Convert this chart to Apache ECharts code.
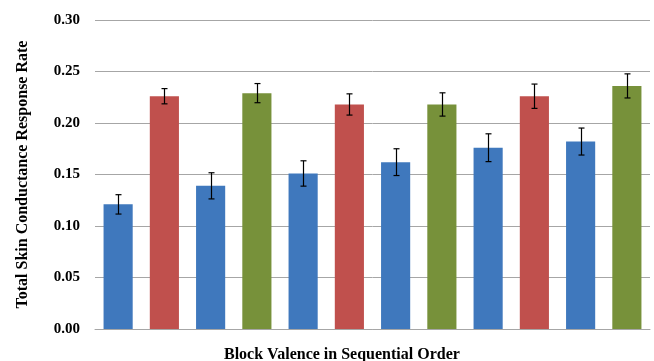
<!DOCTYPE html>
<html>
<head>
<meta charset="utf-8">
<script src="https://cdn.jsdelivr.net/npm/echarts@6/dist/echarts.min.js"></script>
<style>html,body{margin:0;padding:0;background:#fff}#c{width:654px;height:361px}</style>
</head>
<body>
<div id="c"></div>
<script>
var categories = ['1','2','3','4','5','6','7','8','9','10','11','12'];
var valence = ['neutral','negative','neutral','positive','neutral','negative','neutral','positive','neutral','negative','neutral','positive'];
var values = [0.121, 0.226, 0.139, 0.229, 0.151, 0.218, 0.162, 0.218, 0.176, 0.226, 0.182, 0.236];
var errors = [0.0094, 0.0074, 0.0127, 0.0093, 0.0123, 0.0103, 0.013, 0.0113, 0.0135, 0.0118, 0.0131, 0.0117];
var yTicks = ['0.00','0.05','0.10','0.15','0.20','0.25','0.30'];
var colorMap = {neutral:'#3F78BD', negative:'#C0504D', positive:'#77913A'};

var font = '"Liberation Serif", "Times New Roman", serif';
var chart = echarts.init(document.getElementById('c'));
chart.setOption({
  animation: false,
  title: {
    text: 'Block Valence in Sequential Order',
    left: 219, top: 342,
    textStyle: {fontFamily: font, fontWeight: 'bold', fontSize: 16, color: '#000'}
  },
  grid: {left: 95, right: 4, top: 20, bottom: 32},
  xAxis: {
    type: 'category',
    data: categories,
    axisLine: {show: true, lineStyle: {color: '#A6A6A6', width: 1}},
    axisTick: {show: false},
    axisLabel: {show: false}
  },
  yAxis: {
    type: 'value',
    min: 0, max: 0.3, interval: 0.05,
    name: 'Total Skin Conductance Response Rate',
    nameLocation: 'middle',
    nameGap: 64,
    nameTextStyle: {fontFamily: font, fontWeight: 'bold', fontSize: 16, color: '#000'},
    axisLine: {show: false},
    axisTick: {show: false},
    splitLine: {lineStyle: {color: '#A6A6A6', width: 1}},
    axisLabel: {
      fontFamily: font, fontWeight: 'bold', fontSize: 15, color: '#000', margin: 15,
      formatter: function (v) { return yTicks[Math.round(v / 0.05)]; }
    }
  },
  series: [
    {
      type: 'bar',
      barWidth: '63%',
      data: values.map(function (v, i) {
        return {value: v, itemStyle: {color: colorMap[valence[i]]}};
      })
    },
    {
      type: 'custom',
      data: values.map(function (v, i) { return [i, v - errors[i], v + errors[i]]; }),
      renderItem: function (params, api) {
        var lo = api.coord([api.value(0), api.value(1)]);
        var hi = api.coord([api.value(0), api.value(2)]);
        var x = Math.round(lo[0]) + 0.5;
        var w = 3;
        var style = {stroke: '#000', lineWidth: 1.2};
        return {
          type: 'group',
          children: [
            {type: 'line', shape: {x1: x, y1: lo[1], x2: x, y2: hi[1]}, style: style},
            {type: 'line', shape: {x1: x - w, y1: lo[1], x2: x + w, y2: lo[1]}, style: style},
            {type: 'line', shape: {x1: x - w, y1: hi[1], x2: x + w, y2: hi[1]}, style: style}
          ]
        };
      },
      z: 10
    }
  ]
});
</script>
</body>
</html>
